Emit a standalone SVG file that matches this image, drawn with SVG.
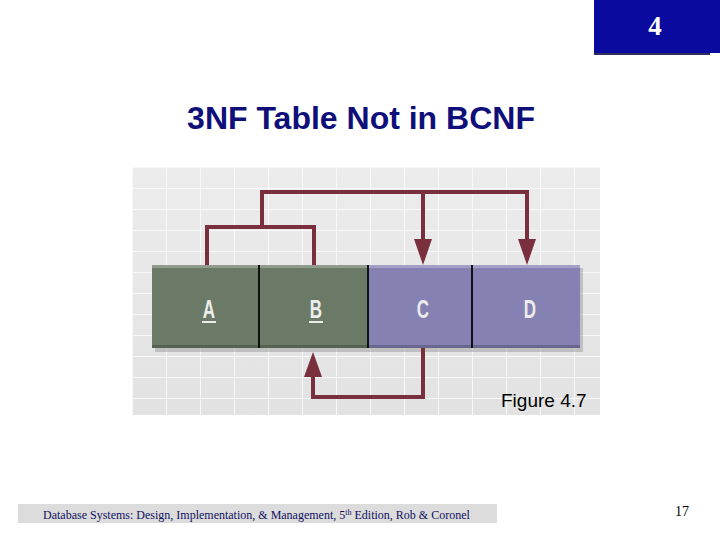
<svg xmlns="http://www.w3.org/2000/svg" width="720" height="540" viewBox="0 0 720 540">
<defs>
<style>
.title{font-family:"Liberation Sans",Arial,sans-serif;font-weight:bold;font-size:32px;fill:#0f0f7a}
.cell{font-family:"Liberation Sans",Arial,sans-serif;font-weight:bold;font-size:25px;fill:#ececec;text-anchor:middle}
.foot{font-family:"Liberation Serif","Times New Roman",serif;font-size:12px;fill:#101060}
.conn{fill:none;stroke:#7a2f3e;stroke-width:4;stroke-linejoin:miter}
.head{fill:#7a2f3e}
.ul{fill:#ececec}
</style>
<linearGradient id="gbg" x1="0" y1="0" x2="0" y2="1">
<stop offset="0" stop-color="#ececec"/>
<stop offset="1" stop-color="#e2e2e2"/>
</linearGradient>
<pattern id="gridp" x="132" y="167" width="34" height="21" patternUnits="userSpaceOnUse">
<path d="M0 0H34M0 0V21" stroke="#f8f8f8" stroke-width="2" fill="none"/>
</pattern>
</defs>
<rect width="720" height="540" fill="#ffffff"/>
<g id="badge">
<rect x="594" y="0" width="126" height="53" fill="#0a0a9e"/>
<rect x="594" y="53" width="116" height="2" fill="#303060"/>
<text x="655" y="35" font-family="Liberation Serif,serif" font-weight="bold" font-size="27" fill="#ffffff" text-anchor="middle">4</text>
</g>
<text class="title" x="361" y="129" text-anchor="middle">3NF Table Not in BCNF</text>
<g id="figure">
<rect x="132" y="167" width="468" height="248" fill="url(#gbg)"/>
<rect x="132" y="167" width="468" height="248" fill="url(#gridp)"/>
</g>
<g id="table">
<rect x="155" y="268" width="428" height="84" fill="#9a9a9a" opacity="0.5"/>
<g id="A">
<rect x="152" y="265" width="107" height="83" fill="#6b7a66"/>
<text class="cell" transform="translate(209 318) scale(0.68 1)">A</text>
<rect class="ul" x="202" y="321" width="14" height="2"/>
</g>
<g id="B">
<rect x="259" y="265" width="109" height="83" fill="#6b7a66"/>
<text class="cell" transform="translate(316 318) scale(0.68 1)">B</text>
<rect class="ul" x="309" y="321" width="14" height="2"/>
</g>
<g id="C">
<rect x="368" y="265" width="104" height="83" fill="#8581b2"/>
<text class="cell" transform="translate(423 318) scale(0.68 1)">C</text>
</g>
<g id="D">
<rect x="472" y="265" width="108" height="83" fill="#8581b2"/>
<text class="cell" transform="translate(530 318) scale(0.68 1)">D</text>
</g>
<rect x="152" y="265" width="428" height="3" fill="#ffffff" opacity="0.25"/>
<rect x="152" y="345" width="428" height="3" fill="#000000" opacity="0.2"/>
<path d="M259 265V348M368 265V348M472 265V348" stroke="#111111" stroke-width="2"/>
</g>
<g id="connectors">
<path class="conn" d="M207 265V227H314V265M262 227V192H527V240M423 192V240"/>
<polygon class="head" points="414,239 432,239 423,265"/>
<polygon class="head" points="518,239 536,239 527,265"/>
<path class="conn" d="M423 348V397H313V376"/>
<polygon class="head" points="304,377 322,377 313,352"/>
</g>
<text x="501" y="407" font-family="Liberation Sans,Arial,sans-serif" font-size="19" fill="#000000">Figure 4.7</text>
<g id="footer">
<rect x="18" y="504" width="479" height="19" fill="#dcdcdc"/>
<text class="foot" x="43" y="519">Database Systems: Design, Implementation, &amp; Management, 5<tspan font-size="8" dy="-4">th</tspan><tspan dy="4"> Edition, Rob &amp; Coronel</tspan></text>
</g>
<text x="675" y="516" font-family="Liberation Serif,serif" font-size="14" fill="#000000">17</text>
</svg>
